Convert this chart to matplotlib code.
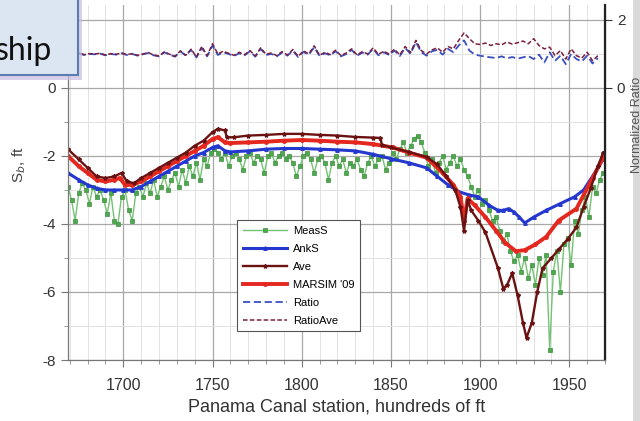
import matplotlib
matplotlib.use("Agg")
import matplotlib.pyplot as plt
from matplotlib.patches import Rectangle
from matplotlib.ticker import MultipleLocator
import numpy as np

plt.rcParams["font.family"] = ["Liberation Sans", "DejaVu Sans"]
plt.rcParams["axes.unicode_minus"] = False

# measured squat, every 2 stations from 1669
meas_x = np.arange(1669, 1970, 2)
meas_s = [
    -2.9, -3.3, -3.9, -3.1, -2.8, -3.0, -3.4, -2.9, -3.2, -3.0,
    -3.3, -3.7, -3.1, -3.9, -4.0, -3.2, -3.0, -3.6, -3.9, -3.1,
    -2.9, -3.2, -2.8, -3.1, -2.7, -3.2, -2.9, -2.6, -3.0, -2.7,
    -2.5, -2.9, -2.4, -2.8, -2.3, -2.6, -2.2, -2.7, -2.1, -2.3,
    -1.9, -1.8, -1.9, -2.1, -1.9, -2.3, -2.0, -1.9, -2.1, -2.4,
    -2.0, -1.9, -2.2, -2.0, -2.1, -2.5, -2.0, -1.9, -2.2, -2.0,
    -1.9, -2.1, -2.0, -2.2, -2.6, -2.3, -2.0, -1.9, -2.1, -2.5,
    -2.1, -2.0, -2.2, -2.7, -2.2, -2.0, -2.3, -2.1, -2.5, -2.2,
    -2.3, -2.1, -2.4, -2.6, -2.2, -2.0, -2.3, -2.1, -2.0, -2.4,
    -2.2, -1.9, -2.1, -1.8, -1.6, -1.9, -1.7, -1.5, -1.4, -1.6,
    -1.9, -2.3, -2.1, -2.5, -2.2, -2.0, -2.4, -2.2, -2.0, -2.3,
    -2.1, -2.4, -2.6, -2.9, -3.2, -3.0, -3.4, -3.3, -3.6, -3.9,
    -3.8, -4.2, -4.5, -4.3, -4.8, -5.1, -4.9, -5.4, -5.0, -5.6,
    -5.2, -5.8, -5.0, -5.5, -4.9, -7.7, -5.4, -4.8, -6.0, -4.6,
    -4.4, -5.2, -3.9, -4.3, -3.6, -3.2, -3.8, -2.9, -3.1, -2.7,
    -2.5,
]

ank_x = [1669, 1675, 1680, 1685, 1690, 1695, 1700, 1705, 1710, 1715, 1720,
         1725, 1730, 1735, 1740, 1745, 1750, 1753, 1757, 1760, 1770, 1780,
         1790, 1800, 1810, 1820, 1830, 1840, 1850, 1860, 1870, 1876, 1882,
         1888, 1894, 1899, 1905, 1910, 1913, 1916, 1919, 1922, 1925, 1930,
         1937, 1945, 1953, 1958, 1963, 1969]
ank_s = [-2.5, -2.7, -2.85, -2.95, -3.0, -3.0, -3.0, -3.0, -2.9, -2.75, -2.6,
         -2.45, -2.3, -2.15, -2.0, -1.9, -1.75, -1.7, -1.85, -1.88, -1.85, -1.8,
         -1.78, -1.78, -1.8, -1.82, -1.85, -1.95, -2.08, -2.2, -2.35, -2.6, -2.85,
         -3.05, -3.15, -3.2, -3.45, -3.6, -3.6, -3.55, -3.65, -3.8, -3.97, -3.8,
         -3.6, -3.4, -3.2, -3.0, -2.6, -2.1]

ave_x = [1669, 1675, 1680, 1685, 1690, 1695, 1699, 1702, 1706, 1710, 1715,
         1720, 1725, 1730, 1735, 1740, 1745, 1750, 1753, 1757, 1758, 1762,
         1770, 1780, 1790, 1800, 1810, 1820, 1830, 1840, 1844, 1845, 1850,
         1860, 1870, 1876, 1881, 1886, 1889, 1891, 1893, 1895, 1899, 1903,
         1910, 1913, 1915, 1918, 1921, 1924, 1926, 1929, 1932, 1935, 1940,
         1944, 1949, 1954, 1958, 1962, 1966, 1969]
ave_s = [-1.8, -2.1, -2.35, -2.6, -2.65, -2.6, -2.5, -2.75, -2.8, -2.65, -2.5,
         -2.35, -2.2, -2.05, -1.9, -1.7, -1.55, -1.3, -1.2, -1.25, -1.45, -1.45,
         -1.4, -1.38, -1.35, -1.35, -1.38, -1.4, -1.44, -1.46, -1.47, -1.67, -1.75,
         -1.88, -2.03, -2.25, -2.6, -3.0, -3.5, -4.2, -3.3, -3.6, -3.9, -4.25,
         -5.3, -5.9, -5.8, -5.45, -6.1, -6.9, -7.35, -6.9, -6.0, -5.3, -5.0,
         -4.75, -4.45, -4.1, -3.5, -2.95, -2.3, -1.9]

mar_x = [1669, 1675, 1680, 1685, 1690, 1695, 1698, 1701, 1705, 1710, 1715,
         1720, 1725, 1730, 1735, 1740, 1745, 1750, 1753, 1757, 1760, 1770,
         1780, 1790, 1800, 1810, 1820, 1830, 1840, 1851, 1860, 1870, 1879,
         1885, 1889, 1891, 1893, 1897, 1903, 1909, 1914, 1920, 1925, 1931,
         1937, 1944, 1954, 1963, 1969]
mar_s = [-2.0, -2.3, -2.5, -2.7, -2.75, -2.7, -2.65, -2.85, -2.85, -2.75, -2.6,
         -2.45, -2.3, -2.15, -2.0, -1.85, -1.7, -1.5, -1.45, -1.6, -1.62, -1.6,
         -1.58, -1.55, -1.53, -1.55, -1.58, -1.6, -1.65, -1.75, -1.9, -2.05, -2.5,
         -2.85, -3.2, -3.9, -3.25, -3.45, -3.8, -4.2, -4.55, -4.8, -4.77, -4.6,
         -4.38, -3.9, -3.55, -2.65, -2.05]

# ratios, every 3 stations from 1669
ratio_x = np.arange(1669, 1967, 3)
ratio = [
    1.00, 0.98, 1.02, 0.97, 1.00, 0.99, 1.01, 0.96, 1.00, 0.98,
    1.02, 0.97, 1.00, 0.95, 0.99, 1.03, 0.96, 0.93, 1.05, 0.98,
    0.92, 1.08, 0.95, 1.12, 0.90, 1.18, 0.93, 1.25, 0.97, 1.05,
    1.00, 0.94, 1.02, 0.96, 1.08, 0.92, 1.15, 0.97, 1.00, 0.93,
    1.04, 0.95, 1.10, 0.91, 1.06, 0.98, 1.20, 0.94, 1.02, 0.96,
    1.08, 0.93, 1.00, 1.12, 0.95, 1.04, 0.98, 1.15, 0.96, 1.05,
    0.97, 1.10, 0.94, 1.18, 1.00, 1.35, 1.05, 0.95, 1.08, 1.12,
    0.98, 1.15, 1.05, 1.25, 1.40, 1.10, 0.98, 0.95, 0.92, 0.90,
    0.88, 0.93, 0.87, 0.91, 0.86, 0.90, 0.94, 0.85, 0.98, 0.75,
    1.05, 0.80, 0.95, 0.70, 1.00, 0.85, 0.78, 0.95, 0.72, 0.88,
]
ratio_ave = [
    1.02, 0.99, 1.03, 0.98, 1.01, 1.00, 1.02, 0.97, 1.01, 0.99,
    1.03, 0.98, 1.01, 0.96, 1.00, 1.04, 0.97, 0.94, 1.06, 0.99,
    0.93, 1.09, 0.96, 1.14, 0.91, 1.22, 0.95, 1.30, 1.00, 1.08,
    1.02, 0.96, 1.05, 0.98, 1.10, 0.94, 1.18, 0.99, 1.03, 0.95,
    1.07, 0.97, 1.13, 0.93, 1.09, 1.00, 1.24, 0.96, 1.05, 0.98,
    1.11, 0.95, 1.03, 1.15, 0.97, 1.07, 1.00, 1.18, 0.99, 1.08,
    1.00, 1.14, 0.97, 1.22, 1.04, 1.40, 1.10, 1.00, 1.12, 1.18,
    1.05, 1.22, 1.15, 1.40, 1.62, 1.45, 1.30, 1.28, 1.32, 1.25,
    1.30, 1.27, 1.35, 1.29, 1.33, 1.38, 1.30, 1.45, 1.25, 1.15,
    1.20, 0.95, 1.10, 0.85, 1.15, 0.95, 0.88, 1.05, 0.80, 0.95,
]

fig = plt.figure(figsize=(6.4, 4.21), dpi=100)
ax = fig.add_axes([68 / 640, 1 - 360 / 421, 537 / 640, 355 / 421])
ax2 = ax.twinx()

l_meas, = ax.plot(meas_x, meas_s, color="#74c274", lw=1.0, marker="s", ms=2.5,
                  mfc="#4fa84f", mec="#3d8f3d", mew=0.5, label="MeasS", zorder=2)
l_ank, = ax.plot(ank_x, ank_s, color="#2438d0", lw=2.2, marker="^", ms=2.5,
                 label="AnkS", zorder=3)
l_mar, = ax.plot(mar_x, mar_s, color="#e5281f", lw=2.8, marker="o", ms=2.5,
                 label="MARSIM '09", zorder=4)
l_ave, = ax.plot(ave_x, ave_s, color="#6a1212", lw=1.7, marker="*", ms=3,
                 label="Ave", zorder=5)

l_rat, = ax2.plot(ratio_x, ratio, color="#3a4fc0", lw=1.3, ls=(0, (4, 2)),
                  label="Ratio")
l_rav, = ax2.plot(ratio_x, ratio_ave, color="#7a2040", lw=1.1, ls=(0, (3, 1.5)),
                  label="RatioAve")

ax.set_xlim(1669, 1970)
ax.set_ylim(-8, 2.44)
ax2.set_ylim(-8, 2.44)

ax.xaxis.set_major_locator(MultipleLocator(50))
ax.xaxis.set_minor_locator(MultipleLocator(10))
ax.yaxis.set_major_locator(MultipleLocator(2))
ax.yaxis.set_minor_locator(MultipleLocator(1))
ax.grid(which="major", color="#a8a8a8", lw=0.9)
ax.grid(which="minor", color="#e2e2e2", lw=0.7)
ax.set_axisbelow(True)

ax.tick_params(which="major", length=5, colors="#777", labelcolor="#333",
               labelsize=11)
ax.tick_params(which="minor", length=3, colors="#888")
ax.tick_params(axis="x", labelsize=11.5, pad=8)

ax2.set_yticks([0, 2])
ax2.tick_params(length=5, colors="#333", labelsize=11)

for a in (ax, ax2):
    a.spines["top"].set_visible(False)
    a.spines["left"].set_color("#777")
    a.spines["bottom"].set_color("#777")
ax2.spines["right"].set_color("#222")
ax2.spines["right"].set_linewidth(1.6)

ax.set_xlabel("Panama Canal station, hundreds of ft", fontsize=13, color="#333",
              labelpad=4)
ax.set_ylabel("S$_b$, ft", fontsize=11, color="#444")
ax.yaxis.set_label_coords(-0.075, 0.55)

leg = ax2.legend(handles=[l_meas, l_ank, l_ave, l_mar, l_rat, l_rav],
                 loc="upper left", bbox_to_anchor=(0.315, 0.394), fontsize=8,
                 labelspacing=0.72, handlelength=4, handletextpad=0.5,
                 borderpad=0.5, fancybox=False, framealpha=1, borderaxespad=0)
leg.get_frame().set_edgecolor("#555")
leg.get_frame().set_linewidth(0.8)

# slide leftovers: title box on the left, grey strip and cut label on the right
fig.add_artist(Rectangle((-0.01, 1 - 80 / 421), 88 / 640, 0.25,
                         transform=fig.transFigure, facecolor="#c8bde2",
                         edgecolor="none", alpha=0.7, zorder=9))
fig.add_artist(Rectangle((-0.01, 1 - 75 / 421), 84 / 640, 0.25,
                         transform=fig.transFigure, facecolor="#dce6f2",
                         edgecolor="#5a7db0", lw=1.5, zorder=10))
fig.text(52 / 640, 1 - 60 / 421, "ship", ha="right", va="baseline",
         fontsize=23, family=["Lato", "DejaVu Sans"], color="#111", zorder=11)
fig.add_artist(Rectangle((633 / 640, 0), 0.02, 1, transform=fig.transFigure,
                         facecolor="#d9d9d9", edgecolor="none", zorder=1))
fig.text(637 / 640, 1 - 125 / 421, "Normalized Ratio", rotation=90, ha="center",
         va="center", fontsize=9, color="#555", zorder=2)

fig.savefig("out.png", dpi=100)
